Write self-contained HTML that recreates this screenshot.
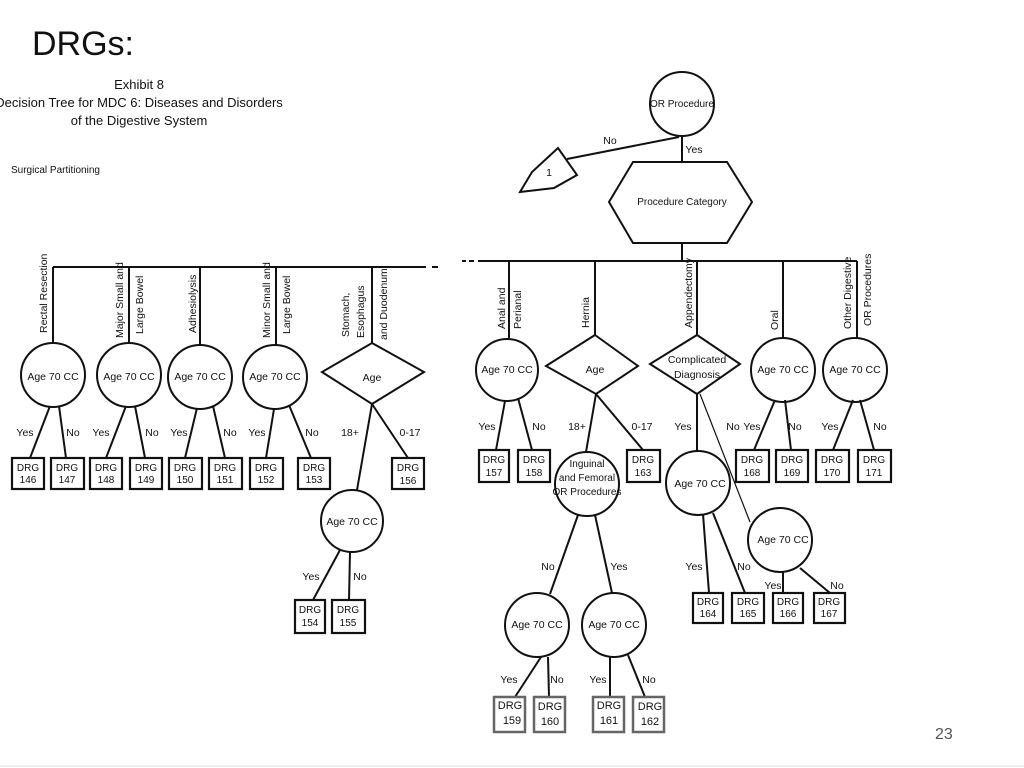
<!DOCTYPE html>
<html><head><meta charset="utf-8"><style>
html,body{margin:0;padding:0;background:#fff;}
svg{display:block;}
text{font-family:"Liberation Sans Narrow","Liberation Sans",sans-serif;fill:#111;}
</style></head><body>
<svg width="1024" height="768" viewBox="0 0 1024 768" xmlns="http://www.w3.org/2000/svg">
<g font-size="11">
<text x="32" y="55" font-size="34" font-family="Liberation Sans,sans-serif" style="font-family:'Liberation Sans',sans-serif">DRGs:</text>
<text x="139" y="89" font-size="13" text-anchor="middle">Exhibit 8</text>
<text x="139" y="107" font-size="13" text-anchor="middle">Decision Tree for MDC 6: Diseases and Disorders</text>
<text x="139" y="125" font-size="13" text-anchor="middle">of the Digestive System</text>
<text x="11" y="173" font-size="10">Surgical Partitioning</text>
<text x="935" y="739" font-size="16" fill="#555" style="font-family:'Liberation Sans',sans-serif;fill:#555">23</text>
</g>
<g stroke="#111" stroke-width="2" fill="none">
<!-- left tree -->
<line x1="53" y1="267" x2="426" y2="267"/><line x1="432" y1="267" x2="438" y2="267"/>
<line x1="53" y1="267" x2="53" y2="343"/><line x1="129" y1="267" x2="129" y2="343"/>
<line x1="200" y1="267" x2="200" y2="345"/><line x1="276" y1="267" x2="276" y2="345"/>
<line x1="372" y1="267" x2="372" y2="343"/>
<circle cx="53" cy="375" r="32"/><circle cx="129" cy="375" r="32"/>
<circle cx="200" cy="377" r="32"/><circle cx="275" cy="377" r="32"/>
<polygon points="372,343 424,372 372,404 322,372"/>
<circle cx="352" cy="521" r="31"/>
<line x1="50" y1="406" x2="30" y2="458"/><line x1="59" y1="406" x2="66" y2="458"/>
<line x1="126" y1="406" x2="106" y2="458"/><line x1="135" y1="406" x2="145" y2="458"/>
<line x1="197" y1="408" x2="185" y2="458"/><line x1="213" y1="406" x2="225" y2="458"/>
<line x1="274" y1="409" x2="266" y2="458"/><line x1="289" y1="405" x2="311" y2="458"/>
<line x1="372" y1="404" x2="357" y2="490"/><line x1="372" y1="404" x2="408" y2="458"/>
<line x1="340" y1="550" x2="313" y2="600"/><line x1="350" y1="552" x2="349" y2="600"/>
<g stroke-width="2.2">
<rect x="12" y="458" width="32" height="31"/><rect x="51" y="458" width="33" height="31"/>
<rect x="90" y="458" width="32" height="31"/><rect x="130" y="458" width="32" height="31"/>
<rect x="169" y="458" width="33" height="31"/><rect x="209" y="458" width="33" height="31"/>
<rect x="250" y="458" width="33" height="31"/><rect x="298" y="458" width="32" height="31"/>
<rect x="392" y="458" width="32" height="31"/>
<rect x="295" y="600" width="30" height="33"/><rect x="332" y="600" width="33" height="33"/>
</g>
<!-- right top -->
<circle cx="682" cy="104" r="32"/>
<line x1="682" y1="136" x2="682" y2="162"/>
<line x1="679" y1="137" x2="567" y2="159"/>
<polygon points="558,148 577,175 554,188 520,192 532,172"/>
<polygon points="633,162 727,162 752,202 727,243 633,243 609,202"/>
<line x1="682" y1="243" x2="682" y2="261"/>
<line x1="478" y1="261" x2="857" y2="261"/>
<line x1="462" y1="261" x2="466" y2="261"/><line x1="469" y1="261" x2="474" y2="261"/>
<line x1="509" y1="261" x2="509" y2="338"/><line x1="595" y1="261" x2="595" y2="335"/>
<line x1="697" y1="261" x2="697" y2="335"/><line x1="783" y1="261" x2="783" y2="338"/>
<line x1="857" y1="261" x2="857" y2="338"/>
<circle cx="507" cy="370" r="31"/>
<polygon points="595,335 638,366 596,394 546,366"/>
<polygon points="697,335 740,364 697,394 650,364"/>
<circle cx="783" cy="370" r="32"/><circle cx="855" cy="370" r="32"/>
<line x1="505" y1="401" x2="496" y2="450"/><line x1="518" y1="398" x2="532" y2="450"/>
<line x1="596" y1="394" x2="586" y2="452"/><line x1="596" y1="394" x2="643" y2="450"/>
<line x1="697" y1="394" x2="697" y2="452"/><line x1="700" y1="394" x2="750" y2="522" stroke-width="1.2"/>
<line x1="775" y1="400" x2="754" y2="450"/><line x1="785" y1="400" x2="791" y2="450"/>
<line x1="853" y1="400" x2="833" y2="450"/><line x1="860" y1="400" x2="874" y2="450"/>
<g stroke-width="2.2">
<rect x="479" y="450" width="30" height="32"/><rect x="518" y="450" width="32" height="32"/>
<rect x="627" y="450" width="33" height="32"/><rect x="736" y="450" width="33" height="32"/>
<rect x="776" y="450" width="32" height="32"/><rect x="816" y="450" width="33" height="32"/>
<rect x="858" y="450" width="33" height="32"/>
<rect x="693" y="593" width="30" height="30"/><rect x="732" y="593" width="32" height="30"/>
<rect x="773" y="593" width="30" height="30"/><rect x="814" y="593" width="31" height="30"/>
</g>
<circle cx="587" cy="484" r="32"/>
<circle cx="698" cy="483" r="32"/>
<circle cx="780" cy="540" r="32"/>
<circle cx="537" cy="625" r="32"/><circle cx="614" cy="625" r="32"/>
<line x1="578" y1="515" x2="550" y2="594"/><line x1="595" y1="515" x2="612" y2="593"/>
<line x1="703" y1="514" x2="709" y2="593"/><line x1="713" y1="513" x2="745" y2="593"/>
<line x1="783" y1="572" x2="783" y2="593"/><line x1="800" y1="568" x2="830" y2="593"/>
<line x1="541" y1="657" x2="515" y2="697"/><line x1="548" y1="657" x2="549" y2="697"/>
<line x1="610" y1="657" x2="610" y2="697"/><line x1="628" y1="655" x2="645" y2="697"/>
<g stroke="#666" stroke-width="2.5">
<rect x="494" y="697" width="31" height="35"/><rect x="534" y="697" width="31" height="35"/>
<rect x="593" y="697" width="31" height="35"/><rect x="633" y="697" width="31" height="35"/>
</g>
</g>
<g font-size="10.5" text-anchor="middle">
<!-- rotated labels left -->
<text transform="translate(47,333) rotate(-90)" text-anchor="start">Rectal Resection</text>
<text transform="translate(123,338) rotate(-90)" text-anchor="start">Major Small and</text>
<text transform="translate(143,334) rotate(-90)" text-anchor="start">Large Bowel</text>
<text transform="translate(196,333) rotate(-90)" text-anchor="start">Adhesiolysis</text>
<text transform="translate(270,338) rotate(-90)" text-anchor="start">Minor Small and</text>
<text transform="translate(290,334) rotate(-90)" text-anchor="start">Large Bowel</text>
<text transform="translate(349,337) rotate(-90)" text-anchor="start">Stomach,</text>
<text transform="translate(364,338) rotate(-90)" text-anchor="start">Esophagus</text>
<text transform="translate(387,340) rotate(-90)" text-anchor="start">and Duodenum</text>
<!-- rotated right -->
<text transform="translate(505,329) rotate(-90)" text-anchor="start">Anal and</text>
<text transform="translate(521,329) rotate(-90)" text-anchor="start">Perianal</text>
<text transform="translate(589,328) rotate(-90)" text-anchor="start">Hernia</text>
<text transform="translate(692,328) rotate(-90)" text-anchor="start">Appendectomy</text>
<text transform="translate(778,330) rotate(-90)" text-anchor="start">Oral</text>
<text transform="translate(851,329) rotate(-90)" text-anchor="start">Other Digestive</text>
<text transform="translate(871,326) rotate(-90)" text-anchor="start">OR Procedures</text>
<!-- node texts -->
<text x="53" y="380">Age 70 CC</text><text x="129" y="380">Age 70 CC</text>
<text x="200" y="380">Age 70 CC</text><text x="275" y="380">Age 70 CC</text>
<text x="372" y="381">Age</text><text x="352" y="525">Age 70 CC</text>
<text x="682" y="107" font-size="10">OR Procedure</text>
<text x="682" y="205" font-size="10">Procedure Category</text>
<text x="549" y="176">1</text>
<text x="610" y="144">No</text><text x="694" y="153">Yes</text>
<text x="507" y="373">Age 70 CC</text><text x="595" y="373">Age</text>
<text x="697" y="363">Complicated</text><text x="697" y="378">Diagnosis</text>
<text x="783" y="373">Age 70 CC</text><text x="855" y="373">Age 70 CC</text>
<text x="587" y="467" font-size="10">Inguinal</text><text x="587" y="481" font-size="10">and Femoral</text><text x="587" y="495" font-size="10">OR Procedures</text>
<text x="700" y="487">Age 70 CC</text><text x="783" y="543">Age 70 CC</text>
<text x="537" y="628">Age 70 CC</text><text x="614" y="628">Age 70 CC</text>
<!-- edge labels -->
<text x="25" y="436">Yes</text><text x="73" y="436">No</text>
<text x="101" y="436">Yes</text><text x="152" y="436">No</text>
<text x="179" y="436">Yes</text><text x="230" y="436">No</text>
<text x="257" y="436">Yes</text><text x="312" y="436">No</text>
<text x="350" y="436">18+</text><text x="410" y="436">0-17</text>
<text x="311" y="580">Yes</text><text x="360" y="580">No</text>
<text x="487" y="430">Yes</text><text x="539" y="430">No</text>
<text x="577" y="430">18+</text><text x="642" y="430">0-17</text>
<text x="683" y="430">Yes</text><text x="733" y="430">No</text>
<text x="752" y="430">Yes</text><text x="795" y="430">No</text>
<text x="830" y="430">Yes</text><text x="880" y="430">No</text>
<text x="548" y="570">No</text><text x="619" y="570">Yes</text>
<text x="694" y="570">Yes</text><text x="744" y="570">No</text>
<text x="773" y="589">Yes</text><text x="837" y="589">No</text>
<text x="509" y="683">Yes</text><text x="557" y="683">No</text>
<text x="598" y="683">Yes</text><text x="649" y="683">No</text>
<!-- box labels -->
<g font-size="10">
<text x="28" y="471">DRG</text><text x="28" y="483">146</text>
<text x="67" y="471">DRG</text><text x="67" y="483">147</text>
<text x="106" y="471">DRG</text><text x="106" y="483">148</text>
<text x="146" y="471">DRG</text><text x="146" y="483">149</text>
<text x="185" y="471">DRG</text><text x="185" y="483">150</text>
<text x="225" y="471">DRG</text><text x="225" y="483">151</text>
<text x="266" y="471">DRG</text><text x="266" y="483">152</text>
<text x="314" y="471">DRG</text><text x="314" y="483">153</text>
<text x="408" y="471">DRG</text><text x="408" y="484">156</text>
<text x="310" y="613">DRG</text><text x="310" y="626">154</text>
<text x="348" y="613">DRG</text><text x="348" y="626">155</text>
<text x="494" y="463">DRG</text><text x="494" y="476">157</text>
<text x="534" y="463">DRG</text><text x="534" y="476">158</text>
<text x="643" y="463">DRG</text><text x="643" y="476">163</text>
<text x="752" y="463">DRG</text><text x="752" y="476">168</text>
<text x="792" y="463">DRG</text><text x="792" y="476">169</text>
<text x="832" y="463">DRG</text><text x="832" y="476">170</text>
<text x="874" y="463">DRG</text><text x="874" y="476">171</text>
<text x="708" y="605">DRG</text><text x="708" y="617">164</text>
<text x="748" y="605">DRG</text><text x="748" y="617">165</text>
<text x="788" y="605">DRG</text><text x="788" y="617">166</text>
<text x="829" y="605">DRG</text><text x="829" y="617">167</text>
</g>
<g font-size="11" style="font-family:'Liberation Sans',sans-serif">
<text x="510" y="709">DRG</text><text x="512" y="724">159</text>
<text x="550" y="710">DRG</text><text x="550" y="725">160</text>
<text x="609" y="709">DRG</text><text x="609" y="724">161</text>
<text x="650" y="710">DRG</text><text x="650" y="725">162</text>
</g>
</g>
<line x1="0" y1="766" x2="1024" y2="766" stroke="#ddd" stroke-width="1"/>
</svg>
</body></html>
